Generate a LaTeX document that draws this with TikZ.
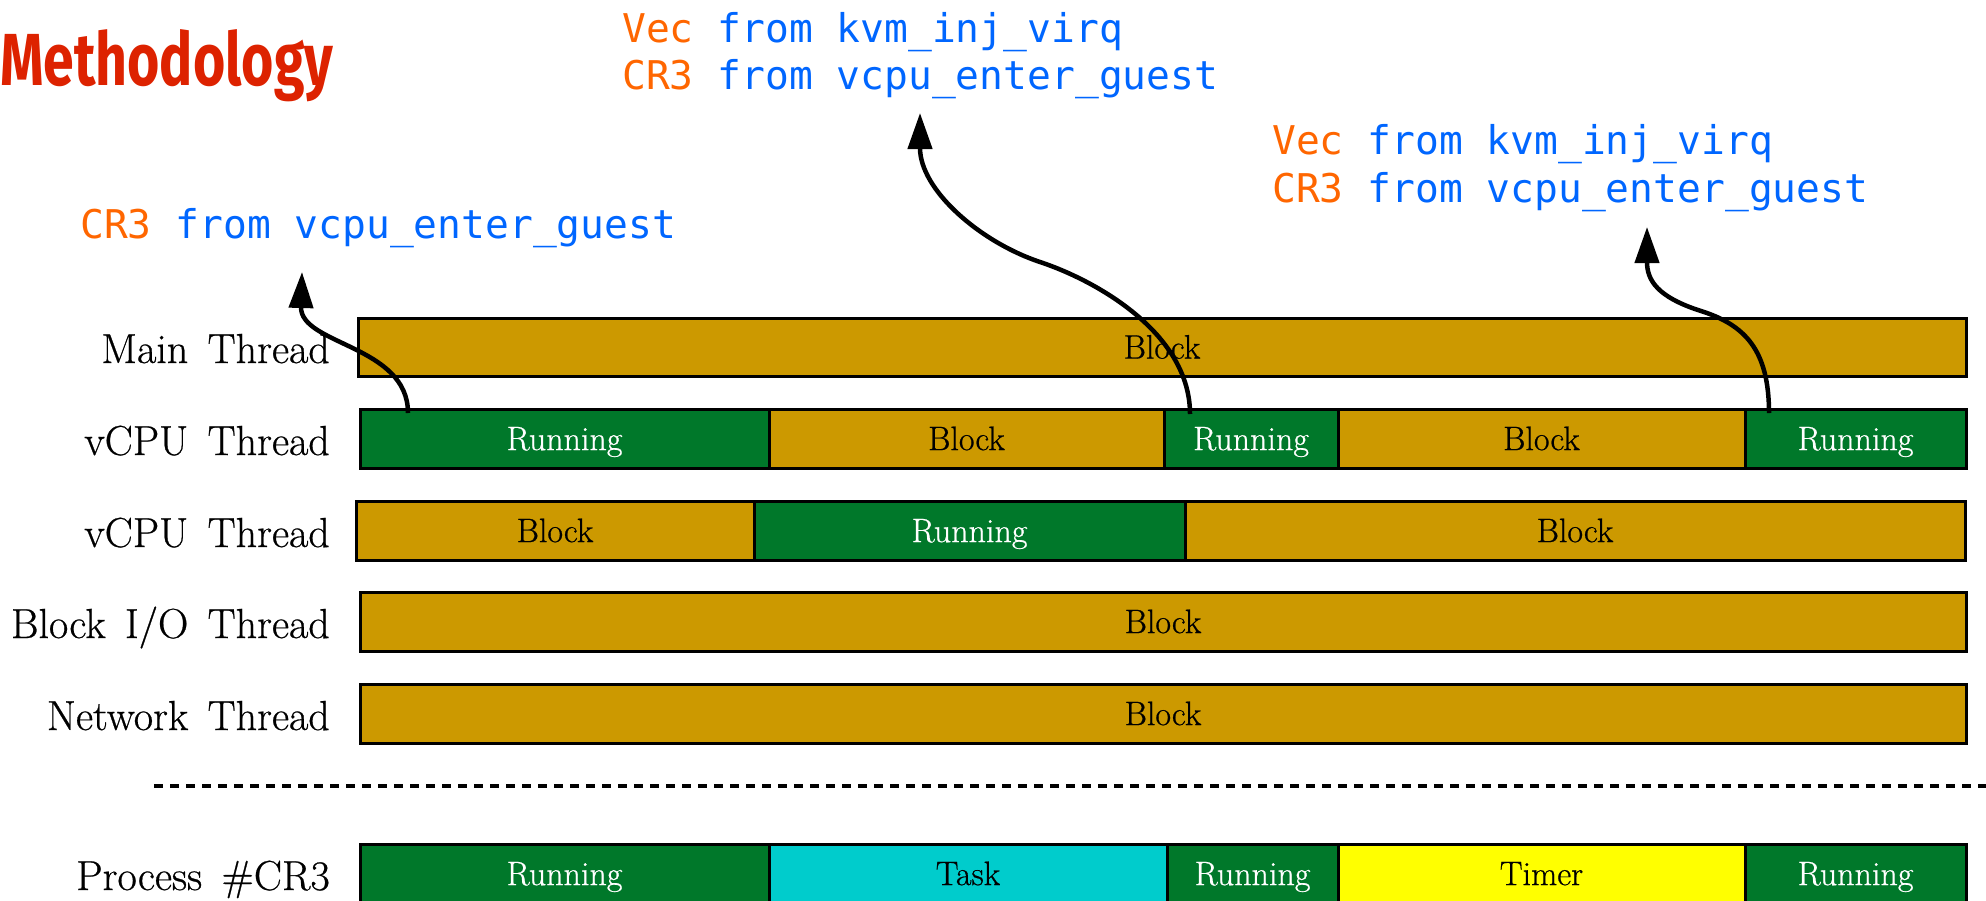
\documentclass[tikz,border=0pt]{standalone}
\usepackage{fontspec}
\usepackage{graphicx}
\usetikzlibrary{arrows.meta}
\setmainfont{Latin Modern Roman}[FakeBold=0.6]
\newfontfamily\monofont{DejaVu Sans Mono}
\newfontfamily\titlefont{Fira Sans}
\newcommand\mywidespace{\spaceskip=0.46em\relax}
\definecolor{blockc}{HTML}{CC9900}
\definecolor{runc}{HTML}{00782A}
\definecolor{taskc}{HTML}{00CCCC}
\definecolor{timerc}{HTML}{FFFF00}
\definecolor{titlec}{HTML}{DD2200}
\definecolor{orangec}{HTML}{FF6600}
\definecolor{bluec}{HTML}{0066FF}
\tikzset{
  seg/.style={draw=black, line width=3pt, inner sep=0pt, minimum height=59pt,
    font=\fontsize{34}{40}\selectfont, text height=23.2pt, text depth=0pt},
  blockseg/.style={seg, fill=blockc, text=black},
  runseg/.style={seg, fill=runc, text=white},
  taskseg/.style={seg, fill=taskc, text=black},
  timerseg/.style={seg, fill=timerc, text=black},
  rowlab/.style={anchor=base east, inner sep=0pt,
    font=\fontsize{42}{50}\selectfont\mywidespace},
  mono/.style={anchor=base west, inner sep=0pt, text=bluec,
    font=\monofont\fontsize{39.6}{47}\selectfont},
  arr/.style={line width=4.5pt, -{Triangle[length=36pt,width=24pt]}},
  sepline/.style={line width=4pt, dash pattern=on 9pt off 7pt}
}
\begin{document}
\begin{tikzpicture}[x=1pt,y=-1pt]
\useasboundingbox (0,0) rectangle (1986,900);

% title
\node[anchor=base west, inner sep=0pt, text=titlec] (title) at (0,85)
  {\resizebox{333pt}{56pt}{\titlefont\bfseries Methodology}};

% code labels
\node[mono] (t1a) at (622,42) {\textcolor{orangec}{Vec} from kvm\_inj\_virq};
\node[mono] (t1b) at (622,89) {\textcolor{orangec}{CR3} from vcpu\_enter\_guest};
\node[mono] (t3a) at (1272,154) {\textcolor{orangec}{Vec} from kvm\_inj\_virq};
\node[mono] (t3b) at (1272,202) {\textcolor{orangec}{CR3} from vcpu\_enter\_guest};
\node[mono] (t2) at (80,238) {\textcolor{orangec}{CR3} from vcpu\_enter\_guest};

% row labels
\node[rowlab] (lab1) at (330,363) {Main Thread};
\node[rowlab] (lab2) at (330,455) {vCPU Thread};
\node[rowlab] (lab3) at (330,547) {vCPU Thread};
\node[rowlab] (lab4) at (330,638) {Block I/O Thread};
\node[rowlab] (lab5) at (330,730) {Network Thread};
\node[rowlab] (lab6) at (330,890) {Process \#CR3};

% row 1
\node[blockseg, minimum width=1608pt, minimum height=58pt] (r1) at (1162,347) {Block};
% row 2
\node[runseg, minimum width=409pt] (r2a) at (564.5,438.5) {Running};
\node[blockseg, minimum width=395pt] (r2b) at (966.5,438.5) {Block};
\node[runseg, minimum width=174pt] (r2c) at (1251,438.5) {Running};
\node[blockseg, minimum width=407pt] (r2d) at (1541.5,438.5) {Block};
\node[runseg, minimum width=221pt] (r2e) at (1855.5,438.5) {Running};
% row 3
\node[blockseg, minimum width=398pt] (r3a) at (555,530.5) {Block};
\node[runseg, minimum width=431pt] (r3b) at (969.5,530.5) {Running};
\node[blockseg, minimum width=780pt] (r3c) at (1575,530.5) {Block};
% row 4, 5
\node[blockseg, minimum width=1606pt] (r4) at (1163,621.5) {Block};
\node[blockseg, minimum width=1606pt] (r5) at (1163,713.5) {Block};
% separator
\coordinate (sepL) at (154,786);
\coordinate (sepR) at (1986,786);
\draw[sepline] (sepL) -- (sepR);
% row 6
\node[runseg, minimum width=409pt] (r6a) at (564.5,873.5) {Running};
\node[taskseg, minimum width=398pt] (r6b) at (968,873.5) {Task};
\node[runseg, minimum width=171pt] (r6c) at (1252.5,873.5) {Running};
\node[timerseg, minimum width=407pt] (r6d) at (1541.5,873.5) {Timer};
\node[runseg, minimum width=221pt] (r6e) at (1855.5,873.5) {Running};

% arrows
\coordinate (a1s) at (408,413);
\coordinate (a1t) at (302,272);
\draw[arr] (a1s) .. controls (408,345) and (300,345) .. (a1t);

\coordinate (a2s) at (1190,414);
\coordinate (a2m) at (1040,262);
\coordinate (a2t) at (920,113);
\draw[arr] (a2s) .. controls (1190,335) and (1100,282) .. (a2m)
  .. controls (980,242) and (920,190) .. (a2t);

\coordinate (a3s) at (1769,413);
\coordinate (a3m) at (1701,311);
\coordinate (a3t) at (1647,227);
\draw[arr] (a3s) .. controls (1769,350) and (1745,325) .. (a3m)
  .. controls (1657,297) and (1647,280) .. (a3t);
\end{tikzpicture}
\end{document}
